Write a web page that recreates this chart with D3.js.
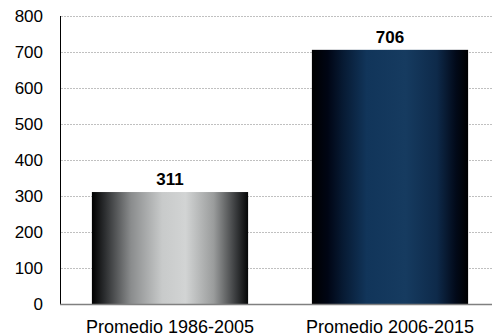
<!DOCTYPE html>
<html><head><meta charset="utf-8">
<script src="https://cdn.jsdelivr.net/npm/d3@7"></script>
<style>body{margin:0;background:#fff}svg{display:block;font-family:"Liberation Sans",Arial,sans-serif}</style>
</head><body>
<svg id="c" width="492" height="336"></svg>
<script>
const categories = ["Promedio 1986-2005", "Promedio 2006-2015"];
const values = [311, 706];
const yTicks = [0, 100, 200, 300, 400, 500, 600, 700, 800];

const svg = d3.select("#c");
const x = d3.scaleBand().domain(categories).range([60, 500]).paddingInner(0.29).paddingOuter(0.145);
const y = d3.scaleLinear().domain([0, 800]).range([304, 16]);

const defs = svg.append("defs");
const g1 = defs.append("linearGradient").attr("id", "g0").attr("x1", 0).attr("x2", 1).attr("y1", 0).attr("y2", 0);
[[0,"#000000"],[0.08,"#2a2c2e"],[0.25,"#8a8c8d"],[0.45,"#c8caca"],[0.6,"#d2d4d4"],[0.78,"#9a9c9c"],[0.92,"#3a3c3e"],[1,"#050607"]]
  .forEach(([o,c]) => g1.append("stop").attr("offset", o).attr("stop-color", c));
const g2 = defs.append("linearGradient").attr("id", "g1").attr("x1", 0).attr("x2", 1).attr("y1", 0).attr("y2", 0);
[[0,"#000000"],[0.1,"#000514"],[0.2,"#071a33"],[0.35,"#11355a"],[0.6,"#163b60"],[0.8,"#0e2a4a"],[0.92,"#020a1a"],[1,"#000000"]]
  .forEach(([o,c]) => g2.append("stop").attr("offset", o).attr("stop-color", c));

// gridlines
svg.append("g").selectAll("line").data(yTicks.filter(d => d > 0)).join("line")
  .attr("x1", 61).attr("x2", 492).attr("y1", d => Math.round(y(d)) + 0.5).attr("y2", d => Math.round(y(d)) + 0.5)
  .attr("stroke", "#c0c0c0").attr("stroke-width", 1).attr("stroke-dasharray", "2,1");

// bars
svg.append("g").selectAll("rect").data(values).join("rect")
  .attr("x", (d, i) => x(categories[i])).attr("width", x.bandwidth())
  .attr("y", d => y(d)).attr("height", d => y(0) - y(d))
  .attr("fill", (d, i) => `url(#g${i})`);

// value labels
svg.append("g").selectAll("text").data(values).join("text")
  .attr("x", (d, i) => x(categories[i]) + x.bandwidth() / 2).attr("y", d => y(d) - 7)
  .attr("text-anchor", "middle").attr("font-size", 17).attr("font-weight", "bold").attr("fill", "#000")
  .text(d => d);

// y axis
const ya = svg.append("g").attr("transform", "translate(60,0)")
  .call(d3.axisLeft(y).tickValues(yTicks).tickSize(0).tickPadding(17));
ya.select(".domain").attr("stroke", "#000").attr("d", "M0.5,16V304.5");
ya.selectAll("text").attr("font-size", 17).attr("fill", "#000").attr("font-family", "Liberation Sans, Arial, sans-serif");

// x axis
const xa = svg.append("g").attr("transform", "translate(0,304)")
  .call(d3.axisBottom(x).tickSize(0).tickPadding(16));
xa.select(".domain").attr("stroke", "#808080").attr("stroke-width", 1.5).attr("d", "M60,0.5H492");
xa.selectAll("text").attr("font-size", 18).attr("fill", "#000").attr("font-family", "Liberation Sans, Arial, sans-serif");
</script>
</body></html>
